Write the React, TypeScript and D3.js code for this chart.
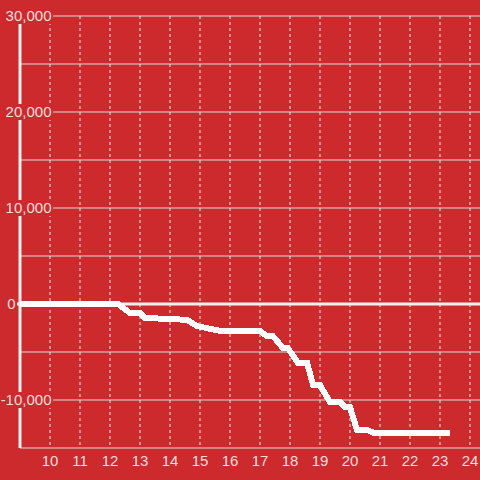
import React from "react";
import * as d3 from "d3";

const hours = [9, 12.27, 12.67, 13.0, 13.17, 14.57, 14.9, 15.67, 17.0, 17.23, 17.43, 17.77, 17.93, 18.27, 18.57, 18.77, 19.0, 19.33, 19.67, 19.83, 20.0, 20.23, 20.57, 20.77, 23.33];
const values = [0, 0, -950, -950, -1450, -1650, -2300, -2800, -2800, -3350, -3350, -4600, -4600, -6150, -6150, -8450, -8450, -10200, -10200, -10750, -10750, -13100, -13100, -13400, -13400];
const xTicks = [10, 11, 12, 13, 14, 15, 16, 17, 18, 19, 20, 21, 22, 23, 24];
const yGrid = [-15000, -10000, -5000, 5000, 10000, 15000, 20000, 25000, 30000];
const yLabels = [30000, 20000, 10000, 0, -10000];

const W = 480;
const H = 480;
const BG = "#cd2a2e";
const TXT = "rgba(255,255,255,0.85)";
const FONT = "'Liberation Sans', Arial, sans-serif";

export default function App() {
  const x = d3.scaleLinear().domain([9, 24 + 1 / 3]).range([20, 480]);
  const y = d3.scaleLinear().domain([-15000, 30000]).range([448, 16]);
  const fmt = d3.format(",");
  const data = hours.map((h, i) => [h, values[i]] as [number, number]);
  const line = d3
    .line<[number, number]>()
    .x((d) => x(d[0]))
    .y((d) => y(d[1]));

  return (
    <div style={{ position: "fixed", left: 0, top: 0 }}>
      <svg width={W} height={H} style={{ display: "block" }}>
        <rect x={0} y={0} width={W} height={H} fill={BG} />
        {yGrid.map((v) => (
          <line key={"h" + v} x1={x(9)} x2={W} y1={y(v)} y2={y(v)} stroke="#d9d9d9" strokeWidth={1.2} />
        ))}
        {xTicks.map((t) => (
          <line
            key={"v" + t}
            x1={x(t)}
            x2={x(t)}
            y1={y(30000)}
            y2={y(-15000)}
            stroke="#e8e8e8"
            strokeWidth={1}
            strokeDasharray="3,3"
          />
        ))}
        <line x1={x(9) - 3} x2={W} y1={y(0)} y2={y(0)} stroke="#f0f0f0" strokeWidth={3} />
        <line x1={x(9)} x2={x(9)} y1={y(30000)} y2={y(-15000)} stroke="#f0f0f0" strokeWidth={3} />
        <path
          d={line(data) || ""}
          fill="none"
          stroke="#ffffff"
          strokeWidth={6}
          strokeLinejoin="miter"
          strokeLinecap="butt"
          shapeRendering="crispEdges"
        />
        {yLabels.map((v) => {
          const s = fmt(v).replace("−", "-");
          const xEnd = v === 0 ? 15.5 : 51.5;
          const w = s.length <= 1 ? 8 : s.length * 7.6;
          return (
            <g key={"yl" + v}>
              <rect x={xEnd - w - 2} y={y(v) - 8} width={w + 3.5} height={16} fill={BG} />
              <text
                x={xEnd}
                y={y(v)}
                dy="0.36em"
                textAnchor="end"
                fontFamily={FONT}
                fontSize={15}
                fill={TXT}
              >
                {s}
              </text>
            </g>
          );
        })}
        {xTicks.map((t) => (
          <text
            key={"xl" + t}
            x={x(t)}
            y={466}
            textAnchor="middle"
            fontFamily={FONT}
            fontSize={15}
            fill={TXT}
          >
            {t}
          </text>
        ))}
      </svg>
    </div>
  );
}
